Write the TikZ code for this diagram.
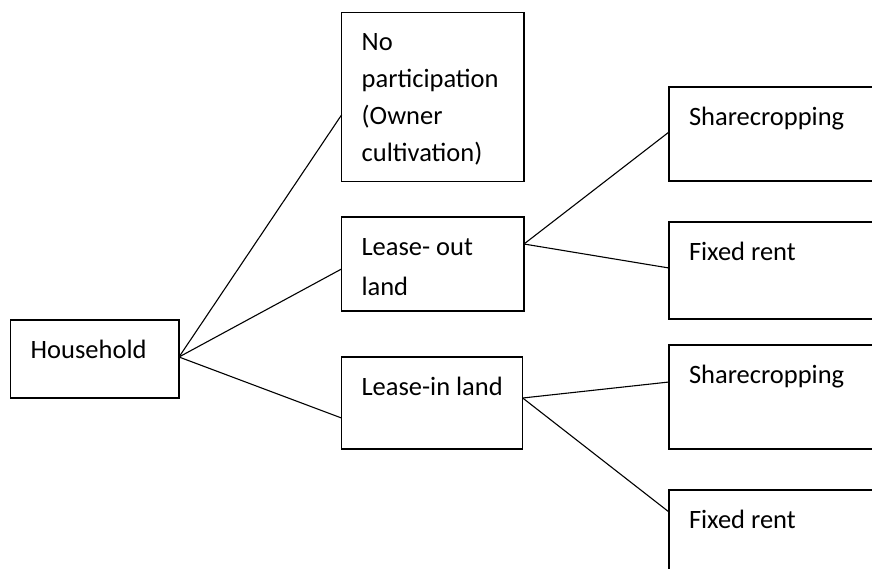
\documentclass[tikz,border=0pt]{standalone}
\usepackage{fontspec}
\setmainfont{Carlito}
\usetikzlibrary{calc}
\newcommand{\boxtxt}[3]{\begin{minipage}[t][#2][t]{#1}\raggedright\leftskip=20pt\relax\vspace*{\dimexpr 38pt-\ht\strutbox\relax}\strut #3\end{minipage}}
\begin{document}
\begin{tikzpicture}[x=1pt,y=1pt,
  box/.style={draw, line width=1.3pt, inner sep=0pt, outer sep=0pt, anchor=north west,
    font=\fontsize{26.5}{37}\selectfont},
  link/.style={line width=1.1pt}]
\useasboundingbox (0,0) rectangle (872,-568);
\clip (0,0) rectangle (872,-568);
\node[box] (hh) at (10.7,-320) {\boxtxt{168.3pt}{78pt}{Household}};
\node[box] (np) at (341.7,-12.7) {\boxtxt{182.3pt}{169pt}{No\\participation\\(Owner\\cultivation)}};
\node[box] (lo) at (341.5,-217) {\boxtxt{182.5pt}{94pt}{Lease- out\\[3pt]land}};
\node[box] (li) at (341.5,-357) {\boxtxt{181.2pt}{92pt}{Lease-in land}};
\node[box] (sc1) at (669,-87) {\boxtxt{230pt}{94pt}{Sharecropping}};
\node[box] (fr1) at (669,-222) {\boxtxt{230pt}{97pt}{Fixed rent}};
\node[box] (sc2) at (669,-345) {\boxtxt{230pt}{104pt}{Sharecropping}};
\node[box] (fr2) at (669,-490) {\boxtxt{230pt}{100pt}{Fixed rent}};
\coordinate (hhR) at ($(hh.north east)+(0,-37)$);
\coordinate (loR) at ($(lo.north east)+(0,-27)$);
\coordinate (liR) at ($(li.north east)+(0,-41)$);
\draw[link] (hhR) -- ($(np.north west)+(0,-102)$);
\draw[link] (hhR) -- ($(lo.north west)+(0,-52)$);
\draw[link] (hhR) -- ($(li.north west)+(0,-61)$);
\draw[link] (loR) -- ($(sc1.north west)+(0,-45)$);
\draw[link] (loR) -- ($(fr1.north west)+(0,-46)$);
\draw[link] (liR) -- ($(sc2.north west)+(0,-37)$);
\draw[link] (liR) -- ($(fr2.north west)+(0,-22)$);
\end{tikzpicture}
\end{document}
